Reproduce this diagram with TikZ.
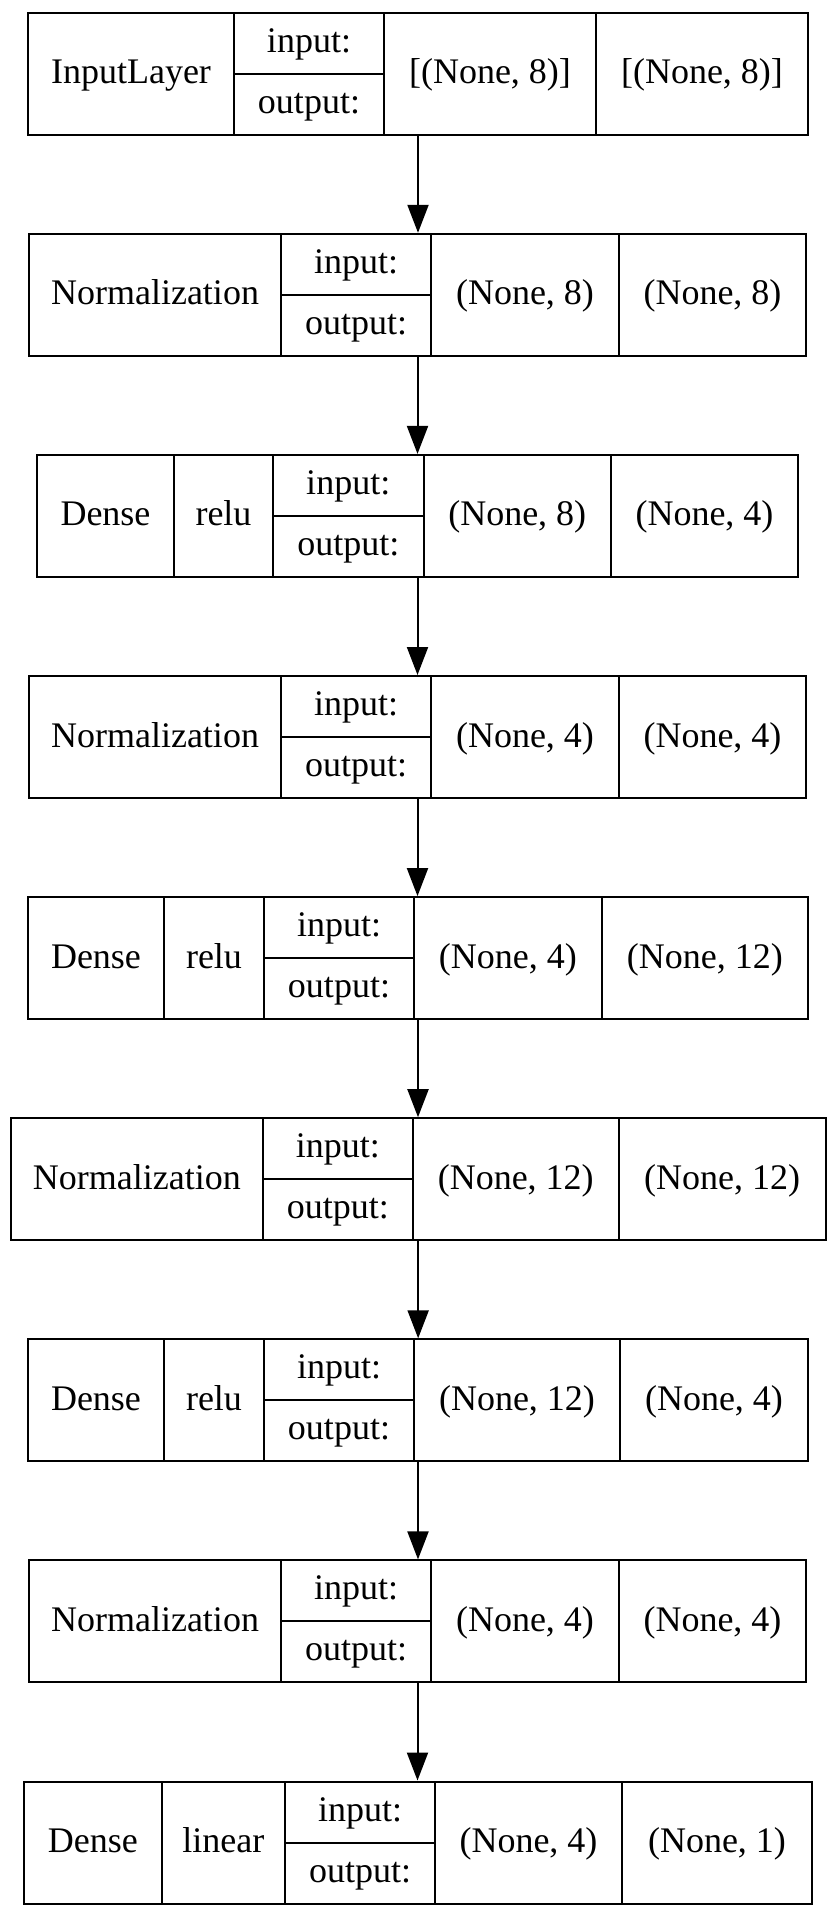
\documentclass[tikz,border=0pt]{standalone}
\usepackage{fontspec}
\setmainfont{Liberation Serif}
\usetikzlibrary{fit,arrows.meta}
\tikzset{
  rec/.style={draw, line width=1pt, inner sep=0pt, rectangle},
  rule/.style={line width=1pt},
  lbl/.style={anchor=base, inner sep=0pt, font=\fontsize{18}{18}\selectfont},
  edge/.style={draw, line width=1pt, -{Triangle[length=14pt,width=10.5pt]}},
}
% #1 name, #2 top, #3 left, #4 right, #5 cells x0/x1/kind/text (kind 1 = input/output cell)
\newcommand\layerrec[5]{%
  \node[rec, fit={(#3,#2) (#4,#2+122)}] (#1) {};
  \foreach \xa/\xb/\kk/\tx [count=\cc] in {#5} {
    \ifnum\cc>1 \draw[rule] (\xa,#2) -- (\xa,#2+122); \fi
    \ifnum\kk=1
      \draw[rule] (\xa,#2+61) -- (\xb,#2+61);
      \node[lbl] (#1-in) at ({(\xa+\xb)/2},{#2+30.5+9}) {input:};
      \node[lbl] (#1-out) at ({(\xa+\xb)/2},{#2+91.5+9}) {output:};
    \else
      \node[lbl] (#1-\cc) at ({(\xa+\xb)/2},{#2+61+10}) {\tx};
    \fi
  }
}
\begin{document}
\begin{tikzpicture}[x=0.5pt,y=-0.5pt]
\useasboundingbox (0,0) rectangle (832,1917);
\fill[white] (0,0) rectangle (832,1917);

\layerrec{L1}{12.7}{28}{808}{28/234/0/{InputLayer}, 234/384/1/x, 384/596/0/{[(None, 8)]}, 596/808/0/{[(None, 8)]}}
\layerrec{L2}{233.8}{29}{806}{29/281/0/{Normalization}, 281/431/1/x, 431/619/0/{(None, 8)}, 619/806/0/{(None, 8)}}
\layerrec{L3}{454.9}{37}{798}{37/174/0/{Dense}, 174/273/0/{relu}, 273/423.5/1/x, 423.5/611/0/{(None, 8)}, 611/798/0/{(None, 4)}}
\layerrec{L4}{676.0}{29}{806}{29/281/0/{Normalization}, 281/431/1/x, 431/619/0/{(None, 4)}, 619/806/0/{(None, 4)}}
\layerrec{L5}{897.1}{28}{808}{28/164/0/{Dense}, 164/264/0/{relu}, 264/414/1/x, 414/601.6/0/{(None, 4)}, 601.6/808/0/{(None, 12)}}
\layerrec{L6}{1118.2}{10.7}{825.6}{10.7/263/0/{Normalization}, 263/412.8/1/x, 412.8/618.7/0/{(None, 12)}, 618.7/825.6/0/{(None, 12)}}
\layerrec{L7}{1339.3}{28}{808}{28/164/0/{Dense}, 164/264/0/{relu}, 264/414/1/x, 414/620/0/{(None, 12)}, 620/808/0/{(None, 4)}}
\layerrec{L8}{1560.4}{29}{806}{29/281/0/{Normalization}, 281/431/1/x, 431/619/0/{(None, 4)}, 619/806/0/{(None, 4)}}
\layerrec{L9}{1781.5}{24}{812}{24/161.6/0/{Dense}, 161.6/285/0/{linear}, 285/435/1/x, 435/622/0/{(None, 4)}, 622/812/0/{(None, 1)}}

\foreach \p/\q in {L1/L2, L2/L3, L3/L4, L4/L5, L5/L6, L6/L7, L7/L8, L8/L9}
  \draw[edge] (\p.south) -- (\p.south |- \q.north);
\end{tikzpicture}
\end{document}
